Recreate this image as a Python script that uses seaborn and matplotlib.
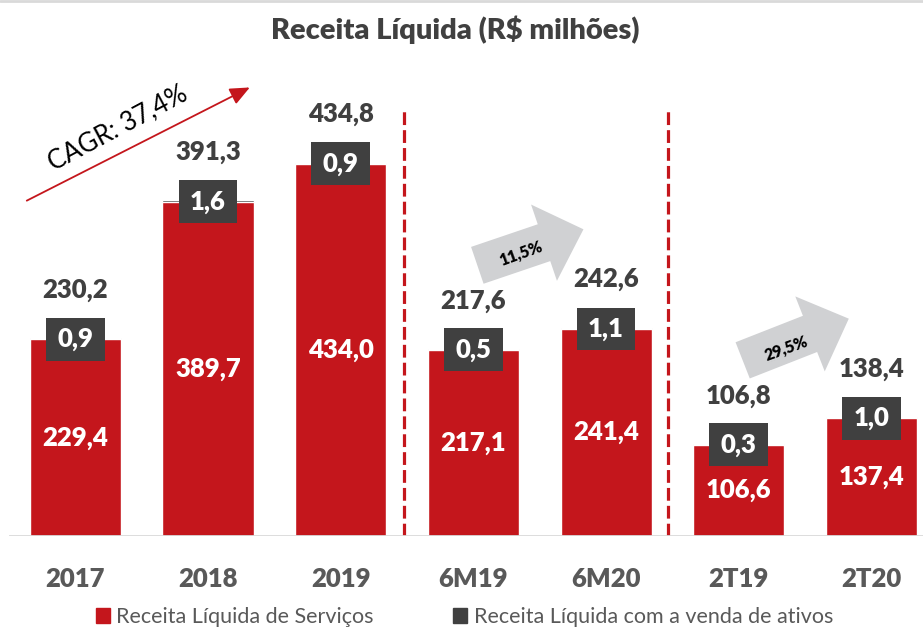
import numpy as np
import pandas as pd
import matplotlib
matplotlib.use('Agg')
import matplotlib.pyplot as plt
import matplotlib.patches as mpatches
from matplotlib.lines import Line2D
import seaborn as sns

categorias = ['2017', '2018', '2019', '6M19', '6M20', '2T19', '2T20']
servicos = [229.4, 389.7, 434.0, 217.1, 241.4, 106.6, 137.4]
ativos = [0.9, 1.6, 0.9, 0.5, 1.1, 0.3, 1.0]
totais = [230.2, 391.3, 434.8, 217.6, 242.6, 106.8, 138.4]
cagr_label = 'CAGR: 37,4%'
crescimento = [('6M19', '6M20', '11,5%'), ('2T19', '2T20', '29,5%')]

def fmt(v):
    return f'{v:.1f}'.replace('.', ',')

RED = '#C4161C'
DARK = '#404040'
TXT = '#595959'

sns.set_style('white')
plt.rcParams['font.family'] = ['Lato', 'DejaVu Sans']

df = pd.DataFrame({'cat': categorias, 'servicos': servicos, 'ativos': ativos, 'total': totais})
df['stack'] = df['servicos'] + df['ativos']

fig = plt.figure(figsize=(9.23, 6.3), dpi=100)
ax = fig.add_axes([9 / 923, 94 / 630, 914 / 923, 476 / 630])

sns.barplot(data=df, x='cat', y='stack', color=DARK, saturation=1, width=0.686, ax=ax)
sns.barplot(data=df, x='cat', y='servicos', color=RED, saturation=1, width=0.686, ax=ax)

ax.set_xlim(-0.5, -0.5 + 914 / 132.67)
ax.set_ylim(0, 555)
sns.despine(ax=ax, left=True, bottom=True)
ax.set_yticks([])
ax.set_ylabel('')
ax.set_xlabel('')
ax.axhline(0, color='#D9D9D9', lw=2, zorder=3)
ax.tick_params(axis='x', length=0, pad=22)
for lbl in ax.get_xticklabels():
    lbl.set_fontsize(18.5)
    lbl.set_fontweight('heavy')
    lbl.set_color(TXT)

for i, row in df.iterrows():
    # valor de servicos dentro da barra
    ax.text(i, row['servicos'] / 2, fmt(row['servicos']), ha='center', va='center',
            color='white', fontsize=18.5, fontweight='heavy')
    # caixa escura com venda de ativos
    ax.add_patch(mpatches.Rectangle((i - 0.22, row['servicos'] - 25), 0.44, 50,
                                    facecolor=DARK, edgecolor='none', zorder=4))
    ax.text(i, row['servicos'], fmt(row['ativos']), ha='center', va='center',
            color='white', fontsize=18.5, fontweight='heavy', zorder=5)
    # total acima
    ax.annotate(fmt(row['total']), (i, row['stack']), xytext=(0, 35),
                textcoords='offset points', ha='center', va='center',
                color=DARK, fontsize=18.5, fontweight='heavy')

# linhas separadoras
for xs in [2.48, 4.47]:
    ax.plot([xs, xs], [0, 495], color=RED, lw=2.3, dashes=(4, 1.6), zorder=2)

# seta CAGR
ax.annotate('', xy=(1.315, 523), xytext=(-0.366, 391),
            arrowprops=dict(arrowstyle='-|>,head_length=0.8,head_width=0.35', color=RED,
                            lw=1.3, mutation_scale=15, shrinkA=0, shrinkB=0))
ax.text(0.32, 476, cagr_label, rotation=28, rotation_mode='anchor', ha='center',
        va='center', fontsize=18.5, color='black')

# setas de crescimento
idx = {c: i for i, c in enumerate(categorias)}
for a, b, lab in crescimento:
    ia, ib = idx[a], idx[b]
    tail = (ia + 0.03, totais[ia] + 98)
    tip = (ib - 0.17, totais[ib] + 115)
    ax.annotate('', xy=tip, xytext=tail,
                arrowprops=dict(arrowstyle='simple,head_length=3.0,head_width=5.8,tail_width=2.8',
                                mutation_scale=10, fc='#D0D1D3', ec='none',
                                shrinkA=0, shrinkB=0))
    ax.text(ia + 0.36, totais[ia] + 112, lab, rotation=20, rotation_mode='anchor',
            ha='center', va='center', fontsize=11.5, fontweight='heavy', color='black')

fig.text(0.493, 1 - 30 / 630, 'Receita Líquida (R\\$ milhões)', ha='center', va='center',
         fontsize=21, fontweight='heavy', color=DARK)

fig.add_artist(Line2D([0, 1], [0.998, 0.998], color='#D9D9D9', lw=2))

handles = [mpatches.Patch(color=RED, label='Receita Líquida de Serviços'),
           mpatches.Patch(color=DARK, label='Receita Líquida com a venda de ativos')]
leg = fig.legend(handles=handles, loc='center', bbox_to_anchor=(0.503, 1 - 617 / 630),
                 ncol=2, frameon=False, fontsize=15.5, handlelength=0.65, handleheight=0.65,
                 handletextpad=0.3, columnspacing=3.7)
for t in leg.get_texts():
    t.set_color(TXT)

fig.savefig('out.png', dpi=100)
